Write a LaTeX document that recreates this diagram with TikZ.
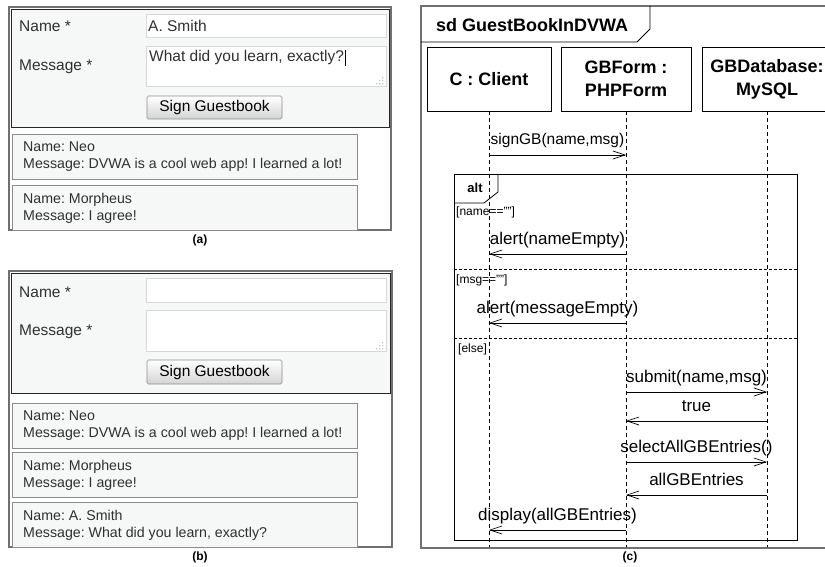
\documentclass[tikz,border=0pt]{standalone}
\usepackage{fontspec}
\setmainfont{Liberation Sans}
\usetikzlibrary{arrows.meta}
\usetikzlibrary{positioning}
\frenchspacing

\definecolor{formbg}{HTML}{F6F7F7}
\definecolor{fieldline}{HTML}{D6D9D9}
\definecolor{entryline}{HTML}{8C8C8C}
\definecolor{txtgray}{HTML}{303030}
\definecolor{framegray}{HTML}{707070}

\tikzset{
  panel/.style={draw=framegray, line width=1.6pt},
  formbox/.style={draw=black!85, line width=0.9pt, fill=formbg},
  field/.style={draw=fieldline, fill=white, line width=0.8pt, inner sep=0pt},
  btn/.style={draw=black!45, rounded corners=1.5pt, top color=white, bottom color=black!17,
    line width=0.7pt, inner sep=0pt, font=\fontsize{15.5}{18}\selectfont},
  entry/.style={draw=entryline, fill=formbg, line width=0.8pt, anchor=north west,
    minimum width=345pt, minimum height=45pt, inner sep=0pt},
  entrytxt/.style={anchor=west, inner sep=0pt, align=left, text=txtgray,
    font=\fontsize{14.2}{17}\selectfont},
  lbl/.style={anchor=west, inner sep=0pt, text=txtgray, font=\fontsize{15.5}{18}\selectfont},
  caption/.style={font=\bfseries\fontsize{12}{14}\selectfont},
  grip/.style={fill=black!45},
  % sequence diagram
  seqframe/.style={draw=framegray, line width=1.5pt},
  lifebox/.style={draw, line width=0.8pt, minimum height=64pt, align=center,
    font=\bfseries\fontsize{18}{23}\selectfont},
  lifeline/.style={dash pattern=on 4pt off 3pt, line width=0.7pt},
  msg/.style={line width=0.7pt, -{Straight Barb[length=12pt,width=8pt,line width=0.7pt]}},
  msglbl/.style={midway, anchor=base, yshift=10pt, inner sep=0pt,
    font=\fontsize{17}{20}\selectfont},
  guard/.style={anchor=west, inner sep=0pt, font=\fontsize{12}{14}\selectfont},
  divider/.style={dash pattern=on 3pt off 2pt, line width=0.7pt}
}

\begin{document}
\begin{tikzpicture}[x=1pt, y=-1pt]
\useasboundingbox (0,0) rectangle (825,567);

% Form (a)
\draw[panel] (9,7) rectangle (391,230);
\draw[formbox] (11,9) rectangle (389,127);
\node[lbl] (nameA) at (19,26) {Name *};
\node[lbl] (msgA) at (19,67) {Message *};
\node[field, anchor=north west, minimum width=240, minimum height=23] (nameFieldA) at (146,14) {};
\node[field, anchor=north west, minimum width=240, minimum height=40] (msgFieldA) at (146,46) {};
\node[lbl, right=2pt of nameFieldA.west] (nameValA) {A. Smith};
\node[lbl, anchor=north west, below right=4pt and 3pt of msgFieldA.north west] (msgValA) {What did you learn, exactly?};
\draw[line width=0.8pt] ([xshift=1pt]msgValA.north east) -- ++(0,16);
\foreach \dx/\dy in {0/0, 3/0, 6/0, 0/3, 3/3, 0/6}
  \fill[grip] ([xshift=-4pt-\dx, yshift=3pt+\dy]msgFieldA.south east) circle (0.6pt);
\node[btn, minimum width=135, minimum height=23] (btnA) at (214.5,107.5) {Sign Guestbook};
\node[entry] (neoA) at (12,134) {};
\node[entrytxt, right=11pt of neoA.west] {Name: Neo\\Message: DVWA is a cool web app! I learned a lot!};
\node[entry] (morphA) at (12,185) {};
\node[entrytxt, right=11pt of morphA.west] {Name: Morpheus\\Message: I agree!};
\node[caption] (capA) at (200,240) {(a)};

% Form (b)
\draw[panel] (9,271) rectangle (392,547);
\draw[formbox] (11,273) rectangle (390,393);
\node[lbl] (nameB) at (19,292) {Name *};
\node[lbl] (msgB) at (19,332) {Message *};
\node[field, anchor=north west, minimum width=240, minimum height=24] (nameFieldB) at (146,278) {};
\node[field, anchor=north west, minimum width=240, minimum height=41] (msgFieldB) at (146,310) {};
\foreach \dx/\dy in {0/0, 3/0, 6/0, 0/3, 3/3, 0/6}
  \fill[grip] ([xshift=-4pt-\dx, yshift=3pt+\dy]msgFieldB.south east) circle (0.6pt);
\node[btn, minimum width=135, minimum height=24] (btnB) at (214.5,372) {Sign Guestbook};
\node[entry] (neoB) at (12,403) {};
\node[entrytxt, right=11pt of neoB.west] {Name: Neo\\Message: DVWA is a cool web app! I learned a lot!};
\node[entry] (morphB) at (12,452) {};
\node[entrytxt, right=11pt of morphB.west] {Name: Morpheus\\Message: I agree!};
\node[entry] (smithB) at (12,502) {};
\node[entrytxt, right=11pt of smithB.west] {Name: A. Smith\\Message: What did you learn, exactly?};
\node[caption] (capB) at (200,557) {(b)};

% Sequence diagram (c)
\draw[seqframe] (825,6) -- (421,6) -- (421,548) -- (825,548);
\draw[line width=0.8pt] (421,42) -- (637,42) -- (650,29) -- (650,6);
\node[anchor=west, inner sep=0pt, font=\bfseries\fontsize{18}{20}\selectfont] (sd) at (436,25) {sd GuestBookInDVWA};

% Lifelines
\node[lifebox, minimum width=124] (client) at (489,79) {C : Client};
\node[lifebox, minimum width=130] (form) at (626,79) {GBForm :\\PHPForm};
\node[lifebox, minimum width=130] (db) at (767,79) {GBDatabase:\\MySQL};
\coordinate (bottom) at (0,547);
\foreach \l in {client, form, db}
  \draw[lifeline] (\l.south) -- (\l.south |- bottom);

% Combined fragment
\draw[line width=0.8pt] (454,174) rectangle (797,540);
\draw[line width=0.8pt] (454,203) -- (484,203) -- (498,192) -- (498,174);
\node[font=\bfseries\fontsize{13}{15}\selectfont] (alt) at (475,188) {alt};
\draw[divider] (454,269) -- (797,269);
\draw[divider] (454,338) -- (797,338);
\node[guard] (g1) at (456,212) {[name==""]};
\node[guard] (g2) at (456,280) {[msg==""]};
\node[guard] (g3) at (458,349) {[else]};

% Messages
\coordinate (m1) at (0,155);
\coordinate (m2) at (0,254);
\coordinate (m3) at (0,323);
\coordinate (m4) at (0,392);
\coordinate (m5) at (0,421);
\coordinate (m6) at (0,462);
\coordinate (m7) at (0,495);
\coordinate (m8) at (0,530);
\draw[msg] (client |- m1) -- node[msglbl, font=\fontsize{15.5}{18}\selectfont] {signGB(name,msg)} (form |- m1);
\draw[msg] (form |- m2) -- node[msglbl] {alert(nameEmpty)} (client |- m2);
\draw[msg] (form |- m3) -- node[msglbl] {alert(messageEmpty)} (client |- m3);
\draw[msg] (form |- m4) -- node[msglbl] {submit(name,msg)} (db |- m4);
\draw[msg] (db |- m5) -- node[msglbl] {true} (form |- m5);
\draw[msg] (form |- m6) -- node[msglbl] {selectAllGBEntries()} (db |- m6);
\draw[msg] (db |- m7) -- node[msglbl] {allGBEntries} (form |- m7);
\draw[msg] (form |- m8) -- node[msglbl] {display(allGBEntries)} (client |- m8);

\node[caption] (capC) at (630,557) {(c)};

\end{tikzpicture}
\end{document}
